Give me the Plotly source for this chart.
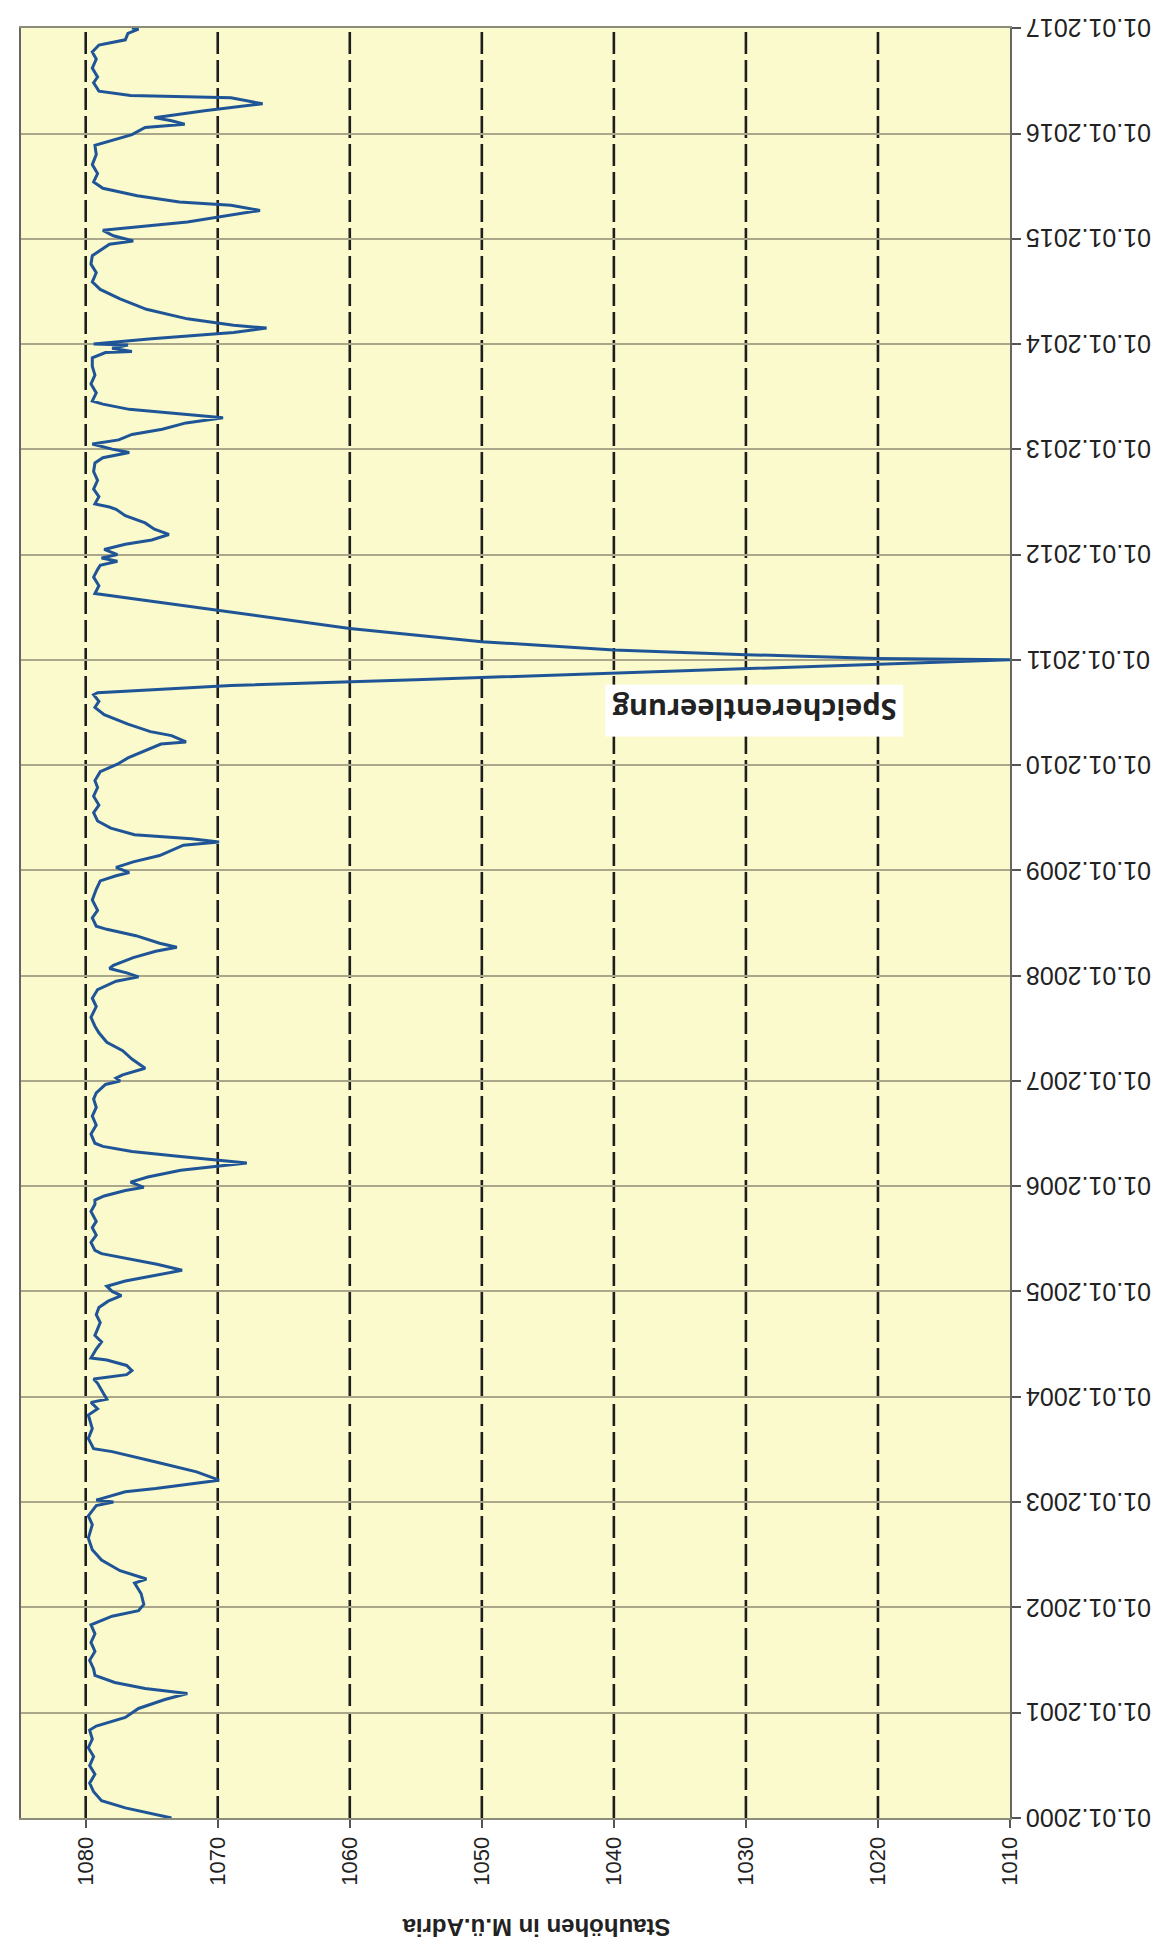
import plotly.graph_objects as go

# ---- data ----
dates = [
    "2000-01-01", "2000-01-15", "2000-02-05", "2000-03-01", "2000-04-01", "2000-05-01",
    "2000-06-01", "2000-07-01", "2000-08-01", "2000-09-01", "2000-10-01", "2000-11-01",
    "2000-11-15", "2000-12-15", "2001-01-15", "2001-02-15",
    "2001-03-08", "2001-03-25", "2001-04-15", "2001-05-10", "2001-06-01", "2001-07-01",
    "2001-08-01", "2001-09-01", "2001-10-01", "2001-11-01", "2001-12-01", "2001-12-20",
    "2002-01-11", "2002-02-17", "2002-03-26", "2002-04-09", "2002-05-08", "2002-06-14",
    "2002-07-20", "2002-08-29", "2002-10-15", "2002-11-14", "2002-12-20", "2003-01-01",
    "2003-01-08", "2003-02-06", "2003-02-17", "2003-03-18", "2003-04-16", "2003-05-19",
    "2003-06-25", "2003-07-05", "2003-08-10", "2003-09-13", "2003-10-30", "2003-11-21",
    "2003-12-13", "2003-12-24", "2004-01-30", "2004-02-17", "2004-03-03", "2004-03-18",
    "2004-04-01", "2004-04-19", "2004-05-08", "2004-05-15", "2004-06-15", "2004-07-10",
    "2004-08-01", "2004-09-15", "2004-10-12", "2004-11-06", "2004-11-28", "2004-12-17",
    "2005-01-01", "2005-01-19", "2005-02-06", "2005-02-25", "2005-03-15", "2005-04-05",
    "2005-04-23", "2005-05-12", "2005-05-23", "2005-06-20", "2005-07-15", "2005-08-10",
    "2005-09-01", "2005-10-05", "2005-10-30", "2005-11-14", "2005-11-28", "2005-12-17",
    "2005-12-28", "2006-01-15", "2006-02-02", "2006-02-25", "2006-03-22", "2006-04-02",
    "2006-04-16", "2006-05-01", "2006-05-19", "2006-05-30", "2006-07-01", "2006-08-01",
    "2006-09-01", "2006-10-01", "2006-10-30", "2006-11-21", "2006-12-20", "2007-01-01",
    "2007-01-11", "2007-01-22", "2007-02-14", "2007-03-18", "2007-04-16", "2007-05-15",
    "2007-06-17", "2007-07-10", "2007-08-10", "2007-09-16", "2007-10-15", "2007-11-14",
    "2007-12-13", "2007-12-28", "2008-01-11", "2008-01-26", "2008-02-06", "2008-03-04",
    "2008-03-26", "2008-04-09", "2008-04-23", "2008-05-19", "2008-06-10", "2008-06-21",
    "2008-07-20", "2008-08-15", "2008-09-20", "2008-10-27", "2008-11-25", "2008-12-13",
    "2008-12-24", "2009-01-11", "2009-01-30", "2009-02-21", "2009-03-29", "2009-04-09",
    "2009-04-20", "2009-05-04", "2009-05-27", "2009-06-21", "2009-07-20", "2009-08-15",
    "2009-09-15", "2009-10-15", "2009-11-08", "2009-12-09", "2010-01-04", "2010-01-26",
    "2010-02-17", "2010-03-15", "2010-03-22", "2010-04-13", "2010-04-27", "2010-05-23",
    "2010-06-25", "2010-07-20", "2010-08-10", "2010-09-02", "2010-09-09", "2010-10-04",
    "2010-10-24", "2010-11-16", "2010-12-06", "2010-12-22", "2011-01-01", "2011-01-06",
    "2011-01-19", "2011-02-04", "2011-03-05", "2011-04-20", "2011-06-03", "2011-06-21",
    "2011-07-17", "2011-08-08", "2011-08-19", "2011-09-15", "2011-10-15", "2011-11-10",
    "2011-11-25", "2011-12-09", "2011-12-20", "2012-01-01", "2012-01-19", "2012-02-06",
    "2012-02-21", "2012-03-11", "2012-03-29", "2012-04-20", "2012-05-15", "2012-06-06",
    "2012-06-14", "2012-06-25", "2012-07-20", "2012-08-15", "2012-09-15", "2012-10-15",
    "2012-11-14", "2012-12-02", "2012-12-20", "2013-01-01", "2013-01-19", "2013-02-02",
    "2013-02-21", "2013-03-11", "2013-04-02", "2013-04-20", "2013-05-08", "2013-05-19",
    "2013-06-06", "2013-06-17", "2013-07-15", "2013-08-15", "2013-09-15", "2013-10-15",
    "2013-11-14", "2013-12-02", "2013-12-06", "2013-12-17", "2013-12-28", "2014-01-01",
    "2014-01-19", "2014-02-10", "2014-02-25", "2014-03-07", "2014-03-29", "2014-05-01",
    "2014-06-06", "2014-07-09", "2014-08-04", "2014-09-05", "2014-10-05", "2014-11-03",
    "2014-12-13", "2014-12-24", "2015-01-11", "2015-01-30", "2015-02-28", "2015-04-09",
    "2015-04-27", "2015-05-08", "2015-05-30", "2015-06-25", "2015-07-17", "2015-08-15",
    "2015-09-15", "2015-10-20", "2015-11-21", "2015-12-28", "2016-01-22", "2016-02-02",
    "2016-02-14", "2016-02-25", "2016-03-20", "2016-04-13", "2016-05-04", "2016-05-12",
    "2016-05-27", "2016-06-25", "2016-07-15", "2016-08-15", "2016-09-15", "2016-10-10",
    "2016-11-03", "2016-11-21", "2016-12-13", "2016-12-28", "2017-01-01",
]
levels = [
    1073.5, 1075.0, 1077.0, 1078.8, 1079.4, 1079.7,
    1079.3, 1079.7, 1079.4, 1079.8, 1079.5, 1079.7,
    1079.2, 1077.0, 1076.0, 1074.0,
    1072.3, 1075.5, 1077.8, 1079.3, 1079.4, 1079.7,
    1079.3, 1079.6, 1079.3, 1079.6, 1078.0, 1076.0,
    1075.6, 1075.8, 1076.3, 1075.4, 1077.4, 1078.8,
    1079.5, 1079.8, 1079.5, 1079.8, 1079.2, 1077.9,
    1079.2, 1077.0, 1074.7, 1069.9, 1071.6, 1074.6,
    1078.0, 1079.4, 1079.8, 1079.5, 1079.8, 1079.1,
    1079.6, 1078.4, 1078.9, 1079.1, 1079.4, 1076.9,
    1076.5, 1076.9, 1078.4, 1079.6, 1079.2, 1078.8,
    1079.3, 1078.9, 1079.2, 1079.0, 1078.3, 1077.3,
    1078.0, 1078.4, 1077.0, 1074.8, 1072.7, 1074.6,
    1076.6, 1078.8, 1079.3, 1079.6, 1079.2, 1079.5,
    1079.2, 1079.6, 1079.3, 1079.3, 1078.6, 1077.0,
    1075.6, 1076.6, 1075.3, 1072.8, 1067.8, 1070.0,
    1073.2, 1076.5, 1078.7, 1079.3, 1079.6, 1079.2,
    1079.5, 1079.2, 1079.4, 1079.2, 1078.5, 1077.4,
    1077.7, 1077.2, 1075.5, 1076.5, 1077.2, 1078.4,
    1079.0, 1079.3, 1079.6, 1079.2, 1079.5, 1079.1,
    1077.7, 1076.0, 1076.9, 1078.2, 1077.9, 1076.4,
    1074.7, 1073.1, 1074.4, 1076.2, 1078.4, 1079.2,
    1079.5, 1079.1, 1079.5, 1079.2, 1078.9, 1077.7,
    1076.7, 1077.7, 1076.4, 1074.4, 1072.6, 1069.9,
    1072.0, 1076.3, 1078.1, 1079.1, 1079.4, 1079.0,
    1079.4, 1079.1, 1079.3, 1078.9, 1077.6, 1076.8,
    1075.6, 1074.3, 1072.4, 1073.5, 1075.1, 1076.8,
    1078.6, 1079.3, 1079.0, 1079.4, 1079.1, 1069.0,
    1055.0, 1040.0, 1027.0, 1016.0, 1010.0, 1020.0,
    1030.0, 1040.0, 1050.0, 1060.0, 1067.0, 1070.0,
    1074.3, 1077.6, 1079.3, 1079.0, 1079.4, 1079.1,
    1078.9, 1077.6, 1078.8, 1077.6, 1078.6, 1077.0,
    1075.0, 1073.7, 1074.8, 1075.5, 1077.0, 1077.7,
    1078.2, 1079.3, 1079.0, 1079.4, 1079.1, 1079.4,
    1079.3, 1078.7, 1076.7, 1078.0, 1079.5, 1077.5,
    1076.5, 1074.2, 1072.4, 1069.6, 1074.4, 1076.7,
    1078.7, 1079.5, 1079.2, 1079.6, 1079.3, 1079.5,
    1079.5, 1078.5, 1076.5, 1078.0, 1076.8, 1079.4,
    1075.0, 1068.8, 1066.3, 1068.8, 1072.3, 1075.4,
    1077.4, 1078.9, 1079.5, 1079.2, 1079.6, 1079.5,
    1078.2, 1076.4, 1077.9, 1078.7, 1072.3, 1066.8,
    1069.0, 1072.9, 1076.1, 1078.7, 1079.4, 1079.1,
    1079.5, 1079.2, 1079.3, 1076.5, 1075.5, 1072.5,
    1073.5, 1074.8, 1071.0, 1066.6, 1069.0, 1076.6,
    1079.0, 1079.4, 1079.1, 1079.5, 1079.2, 1079.5,
    1079.0, 1077.0, 1076.8, 1076.0, 1076.5,
]

value_ticks = [1010, 1020, 1030, 1040, 1050, 1060, 1070, 1080]
dashed_values = [1020, 1030, 1040, 1050, 1060, 1070, 1080]
year_ticks = ["2000-01-01", "2001-01-01", "2002-01-01", "2003-01-01", "2004-01-01",
              "2005-01-01", "2006-01-01", "2007-01-01", "2008-01-01", "2009-01-01",
              "2010-01-01", "2011-01-01", "2012-01-01", "2013-01-01", "2014-01-01",
              "2015-01-01", "2016-01-01", "2017-01-01"]
year_labels = ["01.01.2000", "01.01.2001", "01.01.2002", "01.01.2003", "01.01.2004",
               "01.01.2005", "01.01.2006", "01.01.2007", "01.01.2008", "01.01.2009",
               "01.01.2010", "01.01.2011", "01.01.2012", "01.01.2013", "01.01.2014",
               "01.01.2015", "01.01.2016", "01.01.2017"]
axis_title = "Stauhöhen in M.ü.Adria"
note_text = "Speicherentleerung"
note_pos = (1029.4, "2010-07-09")

# ---- figure ----
fig = go.Figure()

# dashed vertical reference lines
for v in dashed_values:
    fig.add_shape(type="line", xref="x", yref="paper", x0=v, x1=v, y0=0, y1=1,
                  line=dict(color="#1e1e1e", width=2.6, dash="22px,6px"), layer="below")

fig.add_trace(go.Scatter(
    x=levels, y=dates, mode="lines",
    line=dict(color="#1f5597", width=3),
    showlegend=False, hoverinfo="skip",
))

fig.update_layout(
    width=1161, height=1944,
    margin=dict(l=13, r=159, t=20, b=134),
    paper_bgcolor="#ffffff",
    plot_bgcolor="#fafacc",
    font=dict(family="Liberation Sans, Arial, sans-serif", color="#222222"),
    xaxis=dict(
        range=[1084.9, 1010],
        tickvals=value_ticks,
        ticktext=[str(v) for v in value_ticks],
        tickangle=-90,
        tickfont=dict(size=22, color="#222222"),
        showgrid=False, zeroline=False,
        showline=True, linecolor="#8c8c7a", linewidth=2, mirror=True,
        ticks="outside", ticklen=8, tickcolor="#555555", tickwidth=2,
    ),
    yaxis=dict(
        type="date",
        range=["2000-01-01", "2017-01-01"],
        side="right",
        tickvals=year_ticks,
        showticklabels=False,
        showgrid=True, gridcolor="#a9a68a", gridwidth=2,
        zeroline=False,
        showline=True, linecolor="#666666", linewidth=2, mirror=True,
        ticks="outside", ticklen=9, tickcolor="#555555", tickwidth=2,
    ),
)

# date tick labels (upside-down, as in the rotated scan)
for t, lab in zip(year_ticks, year_labels):
    fig.add_annotation(
        x=1.0799, xref="paper", y=t, yref="y",
        text=lab, showarrow=False, textangle=180,
        xanchor="center", yanchor="middle",
        font=dict(family="Liberation Sans, Arial, sans-serif", size=25, color="#222222"),
    )

# axis title
fig.add_annotation(
    x=0.521, xref="paper", y=-0.0615, yref="paper",
    text="<b>" + axis_title + "</b>", showarrow=False, textangle=180,
    xanchor="center", yanchor="middle",
    font=dict(family="Liberation Sans, Arial, sans-serif", size=24, color="#222222"),
)

# note
fig.add_annotation(
    x=note_pos[0], xref="x", y=note_pos[1], yref="y",
    text="<b>" + note_text + "</b>", showarrow=False, textangle=180,
    xanchor="center", yanchor="middle",
    bgcolor="#ffffff", borderpad=6,
    font=dict(family="Open Sans, sans-serif", size=29, color="#222222"),
)

fig.write_html("out.html")
